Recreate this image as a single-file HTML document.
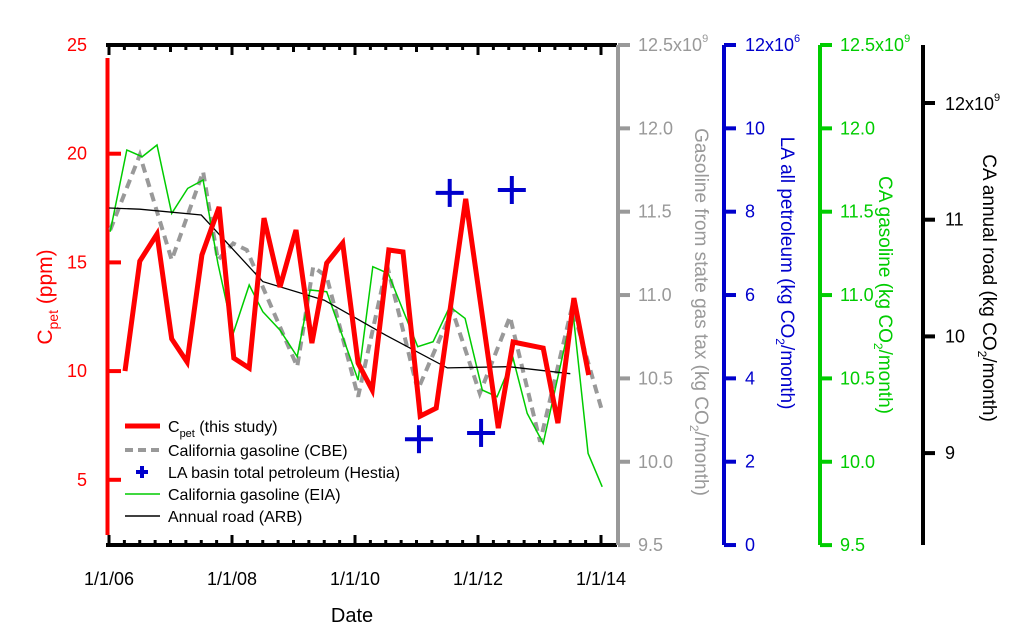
<!DOCTYPE html>
<html><head><meta charset="utf-8"><style>
html,body{margin:0;padding:0;background:#fff;}
svg{display:block;font-family:"Liberation Sans","DejaVu Sans",sans-serif;}
</style></head><body>
<svg id="chart" width="1015" height="634" viewBox="0 0 1015 634"></svg>
<script>
// ---- data ----
const cpetT = [2006.26,2006.50,2006.78,2007.02,2007.27,2007.51,2007.79,2008.03,2008.28,2008.52,2008.78,2009.04,2009.30,2009.54,2009.80,2010.05,2010.28,2010.55,2010.78,2011.06,2011.32,2011.80,2012.33,2012.57,2013.06,2013.30,2013.56,2013.80];
const cpetV = [10.0,15.06,16.3,11.48,10.42,15.34,17.55,10.6,10.14,17.04,13.87,16.49,11.29,14.97,15.89,10.37,9.13,15.57,15.48,7.93,8.3,17.92,7.38,11.34,11.06,7.61,13.36,9.82];
const cbeT = [2006.02,2006.50,2007.02,2007.53,2007.77,2008.02,2008.24,2009.06,2009.32,2009.54,2010.05,2010.52,2011.02,2011.58,2012.03,2012.52,2013.01,2013.53,2014.03];
const cbeV = [11.39,11.84,11.21,11.74,11.21,11.31,11.27,10.57,11.17,11.11,10.39,11.18,10.43,10.91,10.41,10.87,10.12,10.93,10.29];
const eiaT = [2006.02,2006.29,2006.54,2006.78,2007.02,2007.28,2007.53,2007.77,2008.02,2008.28,2008.50,2008.78,2009.06,2009.27,2009.54,2010.05,2010.29,2010.54,2011.02,2011.27,2011.54,2011.79,2012.07,2012.31,2012.57,2012.80,2013.06,2013.54,2013.79,2014.02];
const eiaV = [11.38,11.87,11.83,11.90,11.49,11.64,11.69,11.19,10.77,11.06,10.90,10.79,10.63,11.03,11.02,10.49,11.17,11.13,10.69,10.72,10.93,10.86,10.43,10.39,10.62,10.29,10.11,10.91,10.05,9.85];
const arbT = [2006.0,2006.5,2007.5,2008.5,2009.5,2010.5,2011.5,2012.5,2013.5];
const arbV = [11.10,11.09,11.04,10.47,10.31,10.01,9.73,9.74,9.68];
const hestT = [2011.04,2011.54,2012.05,2012.55];
const hestV = [2.54,8.45,2.69,8.52];
const xTickLabels = ["1/1/06","1/1/08","1/1/10","1/1/12","1/1/14"];
const xTickYears = [2006,2008,2010,2012,2014];
const redTicks = [5,10,15,20,25];
const grayTicks = ["9.5","10.0","10.5","11.0","11.5","12.0"];
const blueTicks = [0,2,4,6,8,10];
const greenTicks = ["9.5","10.0","10.5","11.0","11.5","12.0"];
const blackTicks = [9,10,11];

// ---- scales ----
const X0=109, PXY=61.5, TOP=45, BOT=545;
const xs = t => X0 + (t-2006)*PXY;
const yRed = v => 45 + (25-v)*21.74;
const yGas = v => 45 + (12.5-v)*166.7;
const yBlue = v => 45 + (12-v)*41.67;
const yBlack = v => 103 + (12-v)*116.7;

const svg = document.getElementById('chart');
const NS='http://www.w3.org/2000/svg';
function mk(tag, attrs, parent){const e=document.createElementNS(NS,tag);for(const k in attrs)e.setAttribute(k,attrs[k]);(parent||svg).appendChild(e);return e;}
function txt(s, attrs, parent){const e=mk('text',attrs,parent);e.textContent=s;return e;}
function line(x1,y1,x2,y2,stroke,w){return mk('line',{x1,y1,x2,y2,stroke,'stroke-width':w});}

let e;
e=line(106,45,617,45,'#000',4);


e=line(106,545,617,545,'#000',4);


for(let q=0;q<=32;q++){
  const x=xs(2006+q/4);
  const len = q%8===0?10:(q%4===0?7:5);
  e=line(x,45,x,45+len,'#000',3);
  
  
  e=line(x,545,x,545-(q%8===0?10:5),'#000',3);
  
  
}
xTickYears.forEach((yr,i)=>{
  e=txt(xTickLabels[i],{x:xs(yr),y:585,'font-size':18,'text-anchor':'middle',fill:'#000'});
  
  
});
e=txt('Date',{x:352,y:622,'font-size':20,'text-anchor':'middle',fill:'#000'});



e=line(107.5,58,107.5,535,'#ff0000',4);


redTicks.forEach(v=>{
  const y=yRed(v);
  if(v<25){e=line(108,y,121,y,'#ff0000',4);
  
  }
  e=txt(String(v),{x:87,y:y+6,'font-size':18,'text-anchor':'end',fill:'#ff0000'});
  
  
});
e=mk('text',{transform:'translate(52,297) rotate(-90)','font-size':21,'text-anchor':'middle',fill:'#ff0000'});
e.innerHTML='C<tspan font-size="14" dy="6">pet</tspan><tspan dy="-6"> (ppm)</tspan>';



function rightAxis(ax,color,ticks,yfun,lblx,name,topLbl,sup){
  e=line(ax,45,ax,545,color,4);
  
  
  ticks.forEach(t=>{
    const y=yfun(parseFloat(t));
    e=line(ax,y,ax+12,y,color,4);
    
    
    e=txt(String(t),{x:lblx,y:y+6,'font-size':18,fill:color});
    
    
  });
  if(topLbl){
    e=line(ax,45,ax+12,45,color,4);
    e=mk('text',{x:lblx,y:51,'font-size':18,fill:color});
    e.innerHTML=topLbl+'<tspan font-size="11" dy="-9">'+sup+'</tspan>';
    
    
  }
}
rightAxis(618,'#999999',grayTicks,yGas,638,'gray','12.5x10','9');
rightAxis(724,'#0000cc',blueTicks,yBlue,745,'blue','12x10','6');
rightAxis(820,'#00cc00',greenTicks,yGas,840,'green','12.5x10','9');
rightAxis(923,'#000000',blackTicks,yBlack,945,'black',null,'');
e=line(923,103,935,103,'#000',4);
e=mk('text',{x:945,y:110,'font-size':18,fill:'#000'});
e.innerHTML='12x10<tspan font-size="11" dy="-9">9</tspan>';



function vtitle(x,y,color,html,name){
  e=mk('text',{transform:`translate(${x},${y}) rotate(90)`,'font-size':19,'text-anchor':'middle',fill:color});
  e.innerHTML=html;
  
  
}
const co2='(kg CO<tspan font-size="12" dy="5">2</tspan><tspan dy="-5">/month)</tspan>';
vtitle(695,312,'#999999','Gasoline from state gas tax '+co2,'gray-axis-title');
vtitle(781,273,'#0000cc','LA all petroleum '+co2,'blue-axis-title');
vtitle(879,295,'#00cc00','CA gasoline '+co2,'green-axis-title');
vtitle(983,288,'#000000','CA annual road '+co2,'black-axis-title');

function path(T,V,yf,attrs,name){
  const d=T.map((t,i)=>(i?'L':'M')+xs(t).toFixed(1)+','+yf(V[i]).toFixed(1)).join('');
  const p=mk('path',Object.assign({d,fill:'none','stroke-linejoin':'miter'},attrs));
  
  
}
path(cbeT,cbeV,yGas,{stroke:'#999999','stroke-width':4,'stroke-dasharray':'9,6'},'cbe-line');
path(eiaT,eiaV,yGas,{stroke:'#00cc00','stroke-width':1.5},'eia-line');
path(arbT,arbV,yBlack,{stroke:'#000','stroke-width':1.3},'arb-line');
path(cpetT,cpetV,yRed,{stroke:'#ff0000','stroke-width':5},'cpet-line');
hestT.forEach((t,i)=>{
  const x=xs(t),y=yBlue(hestV[i]);
  const g=mk('g',{stroke:'#0000cc','stroke-width':4});
  
  
  mk('line',{x1:x-14,y1:y,x2:x+14,y2:y},g);
  mk('line',{x1:x,y1:y-14,x2:x,y2:y+14},g);
});

const lg=mk('g',{});


const rows=[426,450,472,494,516];
function lrow(i,html,draw,name){
  const g=mk('g',{},lg);
  
  
  draw(g,rows[i]);
  const t=mk('text',{x:168,y:rows[i]+6,'font-size':16,fill:'#000'},g);
  t.innerHTML=html;
}
lrow(0,'C<tspan font-size="11" dy="5">pet</tspan><tspan dy="-5"> (this study)</tspan>',(g,y)=>mk('line',{x1:125,y1:y,x2:160,y2:y,stroke:'#ff0000','stroke-width':5},g),'legend-cpet');
lrow(1,'California gasoline (CBE)',(g,y)=>mk('line',{x1:125,y1:y,x2:160,y2:y,stroke:'#999999','stroke-width':4,'stroke-dasharray':'8,5'},g),'legend-cbe');
lrow(2,'LA basin total petroleum (Hestia)',(g,y)=>{mk('line',{x1:136,y1:y,x2:148,y2:y,stroke:'#0000cc','stroke-width':4},g);mk('line',{x1:142,y1:y-6,x2:142,y2:y+6,stroke:'#0000cc','stroke-width':4},g);},'legend-hestia');
lrow(3,'California gasoline (EIA)',(g,y)=>mk('line',{x1:125,y1:y,x2:160,y2:y,stroke:'#00cc00','stroke-width':1.5},g),'legend-eia');
lrow(4,'Annual road (ARB)',(g,y)=>mk('line',{x1:125,y1:y,x2:160,y2:y,stroke:'#000','stroke-width':1.5},g),'legend-arb');
</script>
</body></html>
